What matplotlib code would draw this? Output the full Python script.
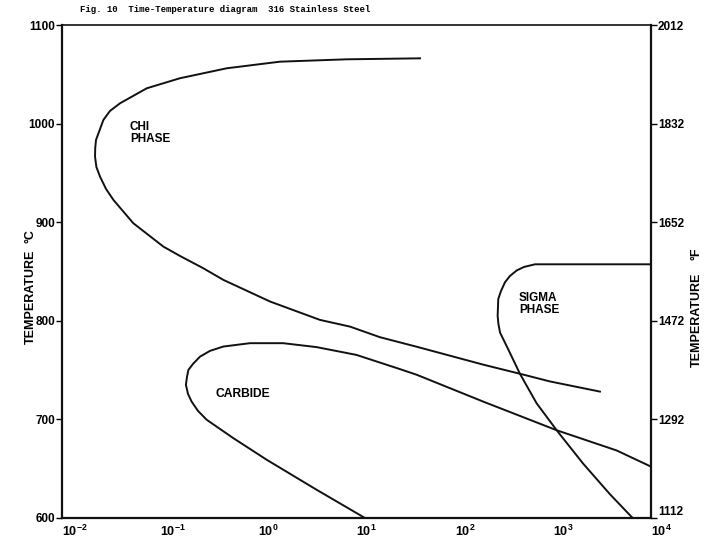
import matplotlib
matplotlib.use("Agg")
import matplotlib.pyplot as plt
from matplotlib.transforms import ScaledTranslation

# ---- data (time in hours, log scale; temperature in °C) ----
chi_time = [44.4, 7.94, 1.66, 0.476, 0.159, 0.0730, 0.0390, 0.0308, 0.0264, 0.0222,
            0.0218, 0.0217, 0.0224, 0.0244, 0.0281, 0.0334, 0.0532, 0.108, 0.159,
            0.275, 0.440, 1.32, 4.25, 8.59, 17.3, 41.0, 196, 462, 935, 3020]
chi_temp = [1066.2, 1065.2, 1062.8, 1056.1, 1046.0, 1035.8, 1020.6, 1012.8, 1003.7, 983.4,
            975.3, 966.5, 956.0, 946.2, 933.7, 922.6, 899.0, 875.2, 865.8,
            853.3, 841.5, 819.5, 800.9, 794.1, 783.4, 773.7, 755.5, 746.3, 738.5, 728.2]

carbide_time = [12.2, 3.93, 1.22, 0.556, 0.298, 0.2425, 0.209, 0.192, 0.183, 0.1875,
                0.194, 0.216, 0.255, 0.322, 0.440, 0.822, 1.79, 3.93, 10.0, 27.7,
                41.0, 196, 1094, 4467, 10000]
carbide_temp = [600.0, 628.6, 659.0, 681.0, 699.6, 708.7, 718.1, 725.9, 735.0, 743.1,
                750.2, 756.3, 763.7, 769.5, 773.9, 777.3, 777.3, 773.3, 765.4, 751.0,
                745.3, 718.0, 689.0, 668.5, 652.1]

sigma_time = [10000, 658, 508, 429, 366, 326, 296.6, 278, 276, 274, 279, 290, 352,
              462, 684, 1094, 2042, 3819, 6501]
sigma_temp = [857.3, 857.3, 854.6, 851.1, 845.5, 839.2, 830.3, 822.1, 813.1, 805.0,
              796.9, 788.0, 770.9, 746.3, 716.3, 689.0, 655.0, 624.1, 600.0]

y_ticks_c = [600, 700, 800, 900, 1000, 1100]
y_labels_f = ["1112", "1292", "1472", "1652", "1832", "2012"]
x_ticks = [1e-2, 1e-1, 1e0, 1e1, 1e2, 1e3, 1e4]
x_labels = [r"$\mathbf{10^{-2}}$", r"$\mathbf{10^{-1}}$", r"$\mathbf{10^{0}}$",
            r"$\mathbf{10^{1}}$", r"$\mathbf{10^{2}}$", r"$\mathbf{10^{3}}$",
            r"$\mathbf{10^{4}}$"]

plt.rcParams['font.family'] = ['Liberation Sans', 'DejaVu Sans']
plt.rcParams['mathtext.fontset'] = 'custom'
plt.rcParams['mathtext.bf'] = 'Liberation Sans:bold'
plt.rcParams['mathtext.rm'] = 'Liberation Sans'

fig = plt.figure(figsize=(7.1, 5.4), dpi=100)
ax = fig.add_axes([62/710, 22/540, 589/710, 493/540])

lc = '#111111'
ax.plot(chi_time, chi_temp, color=lc, lw=1.4, solid_joinstyle='round')
ax.plot(carbide_time, carbide_temp, color=lc, lw=1.4, solid_joinstyle='round')
ax.plot(sigma_time, sigma_temp, color=lc, lw=1.4, solid_joinstyle='round')

ax.set_xscale('log')
ax.set_xlim(1e-2, 1e4)
ax.set_ylim(600, 1100)
ax.minorticks_off()
ax.set_xticks(x_ticks)
ax.set_xticklabels(x_labels, fontsize=9)
shift = ScaledTranslation(-3/100, 0, fig.dpi_scale_trans)
for lab in ax.get_xticklabels():
    lab.set_horizontalalignment('left')
    lab.set_transform(lab.get_transform() + shift)
ax.set_yticks(y_ticks_c)
ax.set_yticklabels([str(v) for v in y_ticks_c], fontsize=8.5, fontweight='bold')
ax.tick_params(axis='x', length=0, pad=4)
ax.tick_params(axis='y', direction='out', length=4, width=1, pad=1)

for s in ax.spines.values():
    s.set_linewidth(1.6)
    s.set_color(lc)
ax.spines['top'].set_linewidth(1.2)

ax2 = ax.twinx()
ax2.set_ylim(600, 1100)
ax2.set_yticks(y_ticks_c)
ax2.set_yticklabels(y_labels_f, fontsize=8.5, fontweight='bold')
ax2.tick_params(axis='y', direction='out', length=4, width=1, pad=1)
for s in ax2.spines.values():
    s.set_visible(False)
# keep the bottom-right label clear of the 10^4 tick label
ax2.get_yticklabels()[0].set_verticalalignment('bottom')

# axis labels
fig.text(31/710, 1 - 297/540, "TEMPERATURE", rotation=90, ha='center', va='center',
         fontsize=9, fontweight='bold')
fig.text(31/710, 1 - 236/540, "°C", rotation=90, ha='center', va='center',
         fontsize=9, fontweight='bold')
fig.text(697/710, 1 - 320/540, "TEMPERATURE", rotation=90, ha='center', va='center',
         fontsize=9, fontweight='bold')
fig.text(697/710, 1 - 254/540, "°F", rotation=90, ha='center', va='center',
         fontsize=9, fontweight='bold')

# region labels
ax.text(0.049, 1003, "CHI\nPHASE", fontsize=8.5, fontweight='bold', ha='left', va='top',
        linespacing=1.0)
ax.text(452, 829, "SIGMA\nPHASE", fontsize=8.5, fontweight='bold', ha='left', va='top',
        linespacing=1.0)
ax.text(0.37, 726, "CARBIDE", fontsize=8.7, fontweight='bold', ha='left', va='center')

# title
fig.text(80/710, 1 - 10/540, "Fig. 10  Time-Temperature diagram  316 Stainless Steel",
         family=['Liberation Mono', 'DejaVu Sans Mono'], fontweight='bold', fontsize=6.5,
         ha='left', va='center')

fig.savefig("out.png", dpi=100)
